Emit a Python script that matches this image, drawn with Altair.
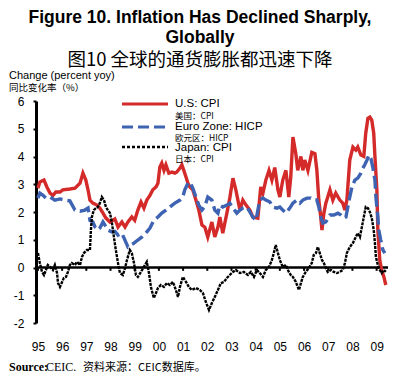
import altair as alt
import pandas as pd

# ---- data (decimal year, % yoy) ----
us_t = [1995.00, 1995.08, 1995.25, 1995.37, 1995.50, 1995.62, 1995.74, 1995.91, 1996.03, 1996.32,
        1996.53, 1996.74, 1996.86, 1996.98, 1997.07, 1997.15, 1997.27, 1997.44, 1997.56, 1997.69,
        1997.81, 1997.98, 1998.18, 1998.31, 1998.47, 1998.60, 1998.72, 1998.88, 1999.00, 1999.13,
        1999.26, 1999.38, 1999.50, 1999.63, 1999.75, 1999.88, 1999.96, 2000.04, 2000.12, 2000.21,
        2000.29, 2000.41, 2000.54, 2000.66, 2000.74, 2000.87, 2000.95, 2001.03, 2001.12, 2001.20,
        2001.28, 2001.40, 2001.53, 2001.65, 2001.78, 2001.90, 2002.02, 2002.19, 2002.31, 2002.44,
        2002.52, 2002.64, 2002.81, 2002.93, 2003.06, 2003.18, 2003.35, 2003.47, 2003.60, 2003.76,
        2003.88, 2004.09, 2004.21, 2004.30, 2004.42, 2004.55, 2004.67, 2004.79, 2004.92, 2005.00,
        2005.12, 2005.25, 2005.37, 2005.45, 2005.54, 2005.66, 2005.74, 2005.87, 2005.95, 2006.03,
        2006.16, 2006.32, 2006.45, 2006.53, 2006.61, 2006.69, 2006.74, 2006.82, 2006.90, 2006.98,
        2007.07, 2007.19, 2007.31, 2007.48, 2007.60, 2007.69, 2007.77, 2007.89, 2008.02, 2008.14,
        2008.22, 2008.35, 2008.47, 2008.55, 2008.64, 2008.72, 2008.80, 2008.88, 2008.93, 2009.01,
        2009.05, 2009.13, 2009.21, 2009.30, 2009.38]
us_v = [2.86, 3.08, 3.15, 2.90, 2.68, 2.60, 2.72, 2.72, 2.80, 2.83,
        2.86, 3.04, 3.40, 3.15, 2.80, 2.43, 2.32, 2.25, 2.14, 1.96,
        1.78, 1.64, 1.75, 1.46, 1.64, 1.46, 1.64, 1.82, 1.70, 2.07,
        2.36, 2.14, 2.43, 2.60, 2.80, 2.90, 3.04, 3.62, 3.76, 3.50,
        3.70, 3.40, 3.44, 3.40, 3.44, 3.58, 3.70, 3.50, 3.26, 3.04,
        2.90, 2.80, 2.43, 2.07, 1.53, 1.45, 1.10, 1.64, 1.10, 1.46,
        1.82, 1.24, 1.96, 2.50, 3.22, 2.80, 2.07, 2.43, 2.25, 2.07,
        1.82, 1.78, 2.90, 2.68, 3.15, 3.50, 3.15, 3.60, 2.80, 2.54,
        3.15, 3.50, 2.54, 3.26, 4.70, 4.10, 3.50, 4.00, 3.50, 3.87,
        3.50, 4.15, 4.10, 3.50, 2.43, 1.82, 1.35, 1.96, 2.32, 2.54,
        2.80, 2.43, 2.68, 2.43, 2.32, 2.07, 2.43, 3.87, 4.34, 4.23,
        4.34, 4.05, 4.00, 4.84, 5.38, 5.42, 5.31, 4.84, 4.00, 2.80,
        1.35, 0.27, -0.10, -0.34, -0.63]

eu_t = [1995.00, 1995.08, 1995.21, 1995.33, 1995.50, 1995.70, 1995.91, 1996.12, 1996.32, 1996.53,
        1996.74, 1996.94, 1997.07, 1997.15, 1997.27, 1997.36, 1997.48, 1997.56, 1997.69, 1997.77,
        1997.89, 1998.06, 1998.18, 1998.31, 1998.47, 1998.72, 1998.84, 1998.97, 1999.13, 1999.30,
        1999.46, 1999.63, 1999.79, 1999.96, 2000.12, 2000.29, 2000.45, 2000.66, 2000.87, 2000.99,
        2001.07, 2001.20, 2001.28, 2001.40, 2001.53, 2001.65, 2001.78, 2001.90, 2002.02, 2002.19,
        2002.31, 2002.44, 2002.52, 2002.64, 2002.81, 2002.93, 2003.06, 2003.22, 2003.35, 2003.47,
        2003.64, 2003.76, 2003.88, 2004.01, 2004.17, 2004.30, 2004.42, 2004.59, 2004.71, 2004.88,
        2005.00, 2005.12, 2005.25, 2005.41, 2005.54, 2005.70, 2005.83, 2005.95, 2006.12, 2006.28,
        2006.40, 2006.53, 2006.61, 2006.69, 2006.78, 2006.90, 2007.07, 2007.23, 2007.40, 2007.52,
        2007.64, 2007.73, 2007.81, 2007.89, 2007.98, 2008.10, 2008.22, 2008.35, 2008.43, 2008.51,
        2008.60, 2008.68, 2008.76, 2008.84, 2008.93, 2008.97, 2009.05, 2009.09, 2009.17, 2009.26,
        2009.34]
eu_v = [2.50, 2.68, 2.60, 2.50, 2.54, 2.43, 2.47, 2.43, 2.40, 2.07,
        2.03, 2.07, 2.14, 1.70, 1.64, 1.46, 1.35, 1.42, 1.64, 1.53,
        1.35, 1.28, 1.30, 1.17, 1.24, 0.74, 0.81, 0.88, 0.99, 1.10,
        1.24, 1.42, 1.70, 1.82, 1.96, 2.07, 2.18, 2.32, 2.43, 2.54,
        2.80, 3.04, 3.08, 2.86, 2.54, 2.25, 2.07, 2.20, 2.54, 2.43,
        2.07, 1.96, 2.25, 2.18, 2.25, 2.32, 2.14, 1.96, 2.07, 2.14,
        2.18, 2.00, 1.82, 1.70, 2.43, 2.50, 2.43, 2.36, 2.18, 2.14,
        2.18, 2.07, 1.96, 2.14, 2.32, 2.43, 2.32, 2.43, 2.50, 2.50,
        2.43, 2.43, 2.18, 1.82, 1.60, 1.64, 1.89, 1.89, 1.96, 1.89,
        1.78, 1.82, 2.18, 2.54, 2.90, 3.15, 3.22, 3.40, 3.58, 3.70,
        3.87, 4.05, 3.94, 3.62, 3.15, 2.54, 1.82, 1.35, 0.99, 0.63,
        0.52]

jp_t = [1995.00, 1995.08, 1995.17, 1995.25, 1995.33, 1995.41, 1995.50, 1995.62, 1995.70, 1995.79,
        1995.83, 1995.91, 1996.00, 1996.07, 1996.16, 1996.24, 1996.32, 1996.40, 1996.53, 1996.61,
        1996.74, 1996.82, 1996.90, 1997.02, 1997.15, 1997.19, 1997.23, 1997.31, 1997.40, 1997.48,
        1997.56, 1997.64, 1997.73, 1997.81, 1997.89, 1997.98, 1998.06, 1998.14, 1998.22, 1998.31,
        1998.39, 1998.51, 1998.60, 1998.68, 1998.80, 1998.88, 1998.97, 1999.05, 1999.13, 1999.26,
        1999.38, 1999.50, 1999.59, 1999.67, 1999.79, 1999.88, 1999.96, 2000.08, 2000.21, 2000.33,
        2000.45, 2000.58, 2000.70, 2000.79, 2000.87, 2000.99, 2001.12, 2001.24, 2001.36, 2001.53,
        2001.69, 2001.82, 2001.94, 2002.07, 2002.19, 2002.31, 2002.44, 2002.56, 2002.69, 2002.81,
        2002.93, 2003.06, 2003.18, 2003.35, 2003.51, 2003.68, 2003.80, 2003.93, 2004.05, 2004.17,
        2004.30, 2004.42, 2004.55, 2004.67, 2004.75, 2004.83, 2004.92, 2005.00, 2005.12, 2005.25,
        2005.37, 2005.45, 2005.54, 2005.66, 2005.79, 2005.87, 2005.95, 2006.07, 2006.20, 2006.32,
        2006.40, 2006.49, 2006.57, 2006.65, 2006.74, 2006.82, 2006.90, 2006.98, 2007.11, 2007.23,
        2007.36, 2007.48, 2007.60, 2007.69, 2007.77, 2007.89, 2008.02, 2008.14, 2008.22, 2008.31,
        2008.39, 2008.47, 2008.55, 2008.64, 2008.72, 2008.80, 2008.88, 2008.93, 2008.97, 2009.05,
        2009.13, 2009.21, 2009.30, 2009.38]
jp_v = [0.52, 0.16, -0.16, -0.27, -0.09, 0.09, 0.02, -0.09, 0.09, -0.20,
        -0.56, -0.70, -0.52, -0.38, -0.34, -0.16, 0.09, 0.16, 0.09, 0.20,
        0.09, 0.38, 0.52, 0.63, 0.63, 1.35, 1.82, 2.07, 2.14, 2.18,
        2.32, 2.54, 2.43, 2.18, 2.07, 1.96, 1.60, 1.10, 0.63, 0.16,
        -0.20, -0.27, -0.02, 0.27, 0.63, 0.52, 0.16, -0.27, -0.34, -0.16,
        0.02, 0.20, -0.20, -0.70, -1.10, -0.92, -0.74, -0.63, -0.70, -0.56,
        -0.63, -0.52, -0.81, -1.06, -0.70, -0.34, -0.52, -0.70, -0.81, -0.74,
        -0.81, -0.92, -1.24, -1.53, -1.28, -1.06, -0.81, -0.56, -0.52, -0.38,
        -0.27, -0.16, -0.09, -0.20, -0.16, -0.27, -0.16, -0.34, -0.09, -0.20,
        -0.34, -0.09, 0.02, 0.27, 0.52, 0.81, 0.52, 0.27, 0.02, 0.09,
        -0.16, -0.27, -0.34, -0.52, -0.81, -0.56, -0.34, -0.16, -0.02, 0.16,
        0.45, 0.52, 0.74, 0.52, 0.27, 0.16, -0.02, -0.16, -0.09, -0.16,
        -0.20, -0.16, -0.09, 0.16, 0.52, 0.74, 0.88, 1.10, 1.24, 1.10,
        1.46, 1.82, 2.18, 2.14, 2.00, 1.78, 1.35, 0.88, 0.38, 0.09,
        -0.09, -0.20, -0.09, -0.16]

years = list(range(1995, 2010))
y_ticks = list(range(-2, 7))

RED = "#d42a2a"
BLUE = "#3e63b3"
BLACK = "#000000"
SANS = "Liberation Sans"
SERIF = "Liberation Serif"
CJK = "Noto Sans CJK SC"

xs = alt.Scale(domain=[1994.92, 2009.47], nice=False, zero=False)
ys = alt.Scale(domain=[-2, 6], nice=False, zero=False)

xaxis = alt.Axis(values=years, labelExpr="substring(toString(datum.value), 2)",
                 domain=False, ticks=False, grid=False, labelPadding=18,
                 labelFontSize=12, labelFont=SANS, labelColor="black",
                 labelFlush=False, labelOverlap=False, title=None)
yaxis = alt.Axis(values=y_ticks, labelExpr="toString(datum.value)", domainWidth=3,
                 domainColor="black", tickColor="black", tickWidth=2, tickSize=3,
                 labelPadding=9, labelFontSize=12, labelFont=SANS, labelColor="black",
                 grid=False, title=None, labelFlush=False, labelOverlap=False)


def series(t, v, color, width, dash=None):
    df = pd.DataFrame({"t": t, "v": v})
    kw = dict(color=color, strokeWidth=width, clip=True)
    if dash:
        kw["strokeDash"] = dash
    return alt.Chart(df).mark_line(**kw).encode(
        x=alt.X("t:Q", scale=xs, axis=xaxis),
        y=alt.Y("v:Q", scale=ys, axis=yaxis),
    )


def txt(s, x, y, size, font=SANS, weight="normal", align="left", baseline="alphabetic"):
    return alt.Chart(pd.DataFrame({"s": [s]})).mark_text(
        fontSize=size, font=font, fontWeight=weight, align=align, baseline=baseline,
        color="black").encode(text="s:N", x=alt.value(x), y=alt.value(y))


def legend_line(x1, x2, y, color, width, dash=None):
    kw = dict(color=color, strokeWidth=width)
    if dash:
        kw["strokeDash"] = dash
    return alt.Chart(pd.DataFrame({"a": [0]})).mark_rule(**kw).encode(
        x=alt.value(x1), x2=alt.value(x2), y=alt.value(y))


zero = alt.Chart(pd.DataFrame({"z": [0]})).mark_rule(color="black", strokeWidth=2.5).encode(
    y=alt.Y("z:Q", scale=ys, axis=yaxis))
tick_df = pd.DataFrame({"yr": years, "y0": [0] * len(years), "y1": [-0.12] * len(years)})
yr_ticks = alt.Chart(tick_df).mark_rule(color="black", strokeWidth=2).encode(
    x=alt.X("yr:Q", scale=xs, axis=xaxis),
    y=alt.Y("y0:Q", scale=ys, axis=yaxis),
    y2="y1:Q")

us = series(us_t, us_v, RED, 3.4)
eu = series(eu_t, eu_v, BLUE, 3.4, dash=[13, 5])
jp = series(jp_t, jp_v, BLACK, 2.4, dash=[3, 1])

texts = [
    txt("Figure 10. Inflation Has Declined Sharply,", 164, -78.5, 17.5, weight="bold", align="center"),
    txt("Globally", 164, -58.5, 17.5, weight="bold", align="center"),
    txt("图10  全球的通货膨胀都迅速下降", 164, -35, 18.5, font=CJK, align="center"),
    txt("Change (percent yoy)", -27, -22, 11),
    txt("同比变化率（%）", -27, -10.5, 9.5, font=CJK),
    txt("U.S: CPI", 139, 3, 11.5, baseline="middle"),
    txt("美国：CPI", 139, 15, 8.5, font=CJK, baseline="middle"),
    txt("Euro Zone: HICP", 139, 26, 11.5, baseline="middle"),
    txt("欧元区：HICP", 139, 36.5, 8.5, font=CJK, baseline="middle"),
    txt("Japan: CPI", 139, 47, 11.5, baseline="middle"),
    txt("日本：CPI", 139, 57.5, 8.5, font=CJK, baseline="middle"),
    txt("Source:", -27, 270, 12, font=SERIF, weight="bold"),
    txt("CEIC.", 10, 270, 12, font=SERIF),
    txt("资料来源：CEIC数据库。", 47, 270, 11, font=CJK),
]

legend = [
    legend_line(86, 132, 3, RED, 3.2),
    legend_line(86, 132, 26, BLUE, 3.2, dash=[11, 5]),
    legend_line(86, 132, 46, BLACK, 2.4, dash=[3, 2]),
]

chart = alt.layer(zero, yr_ticks, us, eu, jp, *legend, *texts).properties(
    width=352, height=222,
    autosize=alt.AutoSizeParams(type="none"),
    padding={"left": 28, "top": 93, "right": 4, "bottom": 55},
).configure_view(stroke=None)

chart.save("out.html", embed_options={"renderer": "svg", "actions": False})
